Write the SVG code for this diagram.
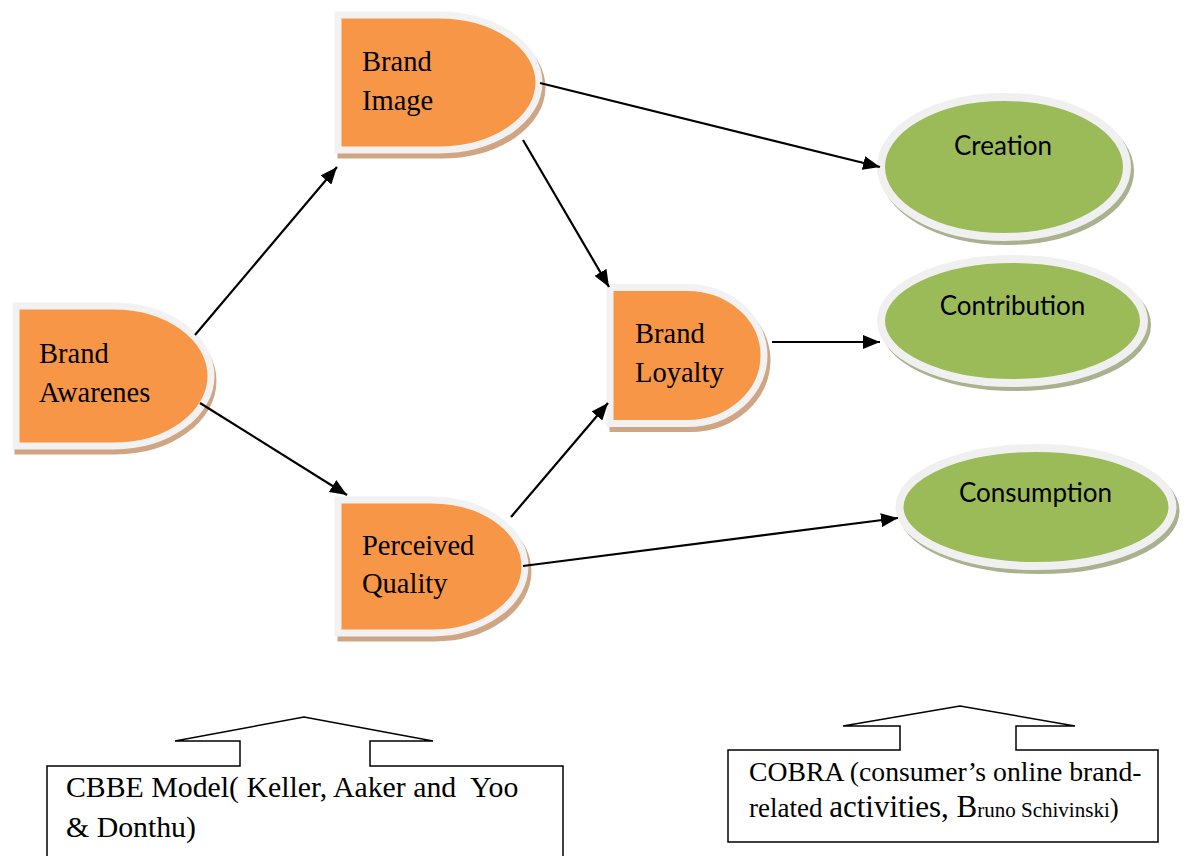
<svg xmlns="http://www.w3.org/2000/svg" width="1194" height="856" viewBox="0 0 1194 856">
<style>
.shd{fill:#CFA584;stroke:#CFA584;stroke-width:7}
.ora{fill:#F79646;stroke:#F2F2F2;stroke-width:7}
.gshd{fill:#A9B18F;stroke:#A9B18F;stroke-width:8}
.grn{fill:#9BBB59;stroke:#F0F0F0;stroke-width:8}
.ot{font-family:"Liberation Serif","Times New Roman",serif;font-size:28.5px;fill:#000}
.gt{font-family:Lato,"Open Sans",sans-serif;font-size:26px;fill:#000;text-anchor:middle}
.conn line{stroke:#000;stroke-width:2.2}
.call{fill:none;stroke:#000;stroke-width:1.5}
.bt{font-family:"Liberation Serif","Times New Roman",serif;fill:#000;white-space:pre}
</style>
<defs>
<marker id="ah" markerUnits="userSpaceOnUse" markerWidth="18" markerHeight="14" refX="17" refY="7" orient="auto">
<path d="M0,0 L17,7 L0,14 Z" fill="#000"/>
</marker>
</defs>

<g id="brand-awareness">
<path class="shd" transform="translate(2,5)" d="M16,306 L113.5,306 A97.5,70 0 0 1 113.5,446 L16,446 Z"/>
<path class="ora" d="M16,306 L113.5,306 A97.5,70 0 0 1 113.5,446 L16,446 Z"/>
<text class="ot" font-family="Liberation Serif, serif" x="39" y="363">Brand</text>
<text class="ot" font-family="Liberation Serif, serif" x="39" y="402">Awarenes</text>
</g>

<g id="brand-image">
<path class="shd" transform="translate(3,5)" d="M338,15 L438.5,15 A100.5,67.5 0 0 1 438.5,150 L338,150 Z"/>
<path class="ora" d="M338,15 L438.5,15 A100.5,67.5 0 0 1 438.5,150 L338,150 Z"/>
<text class="ot" font-family="Liberation Serif, serif" x="362" y="71">Brand</text>
<text class="ot" font-family="Liberation Serif, serif" x="362" y="110">Image</text>
</g>

<g id="perceived-quality">
<path class="shd" transform="translate(3,5)" d="M338,500 L431.5,500 A93.5,66.5 0 0 1 431.5,633 L338,633 Z"/>
<path class="ora" d="M338,500 L431.5,500 A93.5,66.5 0 0 1 431.5,633 L338,633 Z"/>
<text class="ot" font-family="Liberation Serif, serif" x="362" y="555">Perceived</text>
<text class="ot" font-family="Liberation Serif, serif" x="362" y="593">Quality</text>
</g>

<g id="brand-loyalty">
<path class="shd" transform="translate(3,5)" d="M610,287.5 L687,287.5 A77,68 0 0 1 687,423.5 L610,423.5 Z"/>
<path class="ora" d="M610,287.5 L687,287.5 A77,68 0 0 1 687,423.5 L610,423.5 Z"/>
<text class="ot" font-family="Liberation Serif, serif" x="635" y="343">Brand</text>
<text class="ot" font-family="Liberation Serif, serif" x="635" y="382">Loyalty</text>
</g>

<g id="creation">
<ellipse class="gshd" cx="1007" cy="171" rx="123" ry="70"/>
<ellipse class="grn" cx="1004" cy="167" rx="123" ry="70"/>
<text class="gt" x="1003" y="155">Creation</text>
</g>

<g id="contribution">
<ellipse class="gshd" cx="1015.5" cy="325" rx="131.5" ry="62"/>
<ellipse class="grn" cx="1012.5" cy="321" rx="131.5" ry="62"/>
<text class="gt" x="1012.5" y="315">Contribution</text>
</g>

<g id="consumption">
<ellipse class="gshd" cx="1039" cy="511" rx="136.5" ry="59"/>
<ellipse class="grn" cx="1036" cy="507" rx="136.5" ry="59"/>
<text class="gt" x="1035.5" y="502">Consumption</text>
</g>

<g class="conn" id="connectors">
<line x1="195" y1="335" x2="337" y2="167" marker-end="url(#ah)"/>
<line x1="200" y1="403" x2="347" y2="495" marker-end="url(#ah)"/>
<line x1="540" y1="83" x2="880" y2="167" marker-end="url(#ah)"/>
<line x1="523" y1="140" x2="609" y2="287" marker-end="url(#ah)"/>
<line x1="511" y1="517" x2="608" y2="403" marker-end="url(#ah)"/>
<line x1="772" y1="342" x2="880" y2="342" marker-end="url(#ah)"/>
<line x1="523" y1="566" x2="898" y2="518" marker-end="url(#ah)"/>
</g>

<g id="cbbe-callout">
<path class="call" d="M47,870 L47,766 L240,766 L240,741 L175,741 L304,717 L433,741 L370,741 L370,766 L563,766 L563,870"/>
<text class="bt" x="66" y="797" font-size="29.8">CBBE Model( Keller, Aaker and  Yoo</text>
<text class="bt" x="66" y="837" font-size="29.8">&amp; Donthu)</text>
</g>

<g id="cobra-callout">
<path class="call" d="M728,842 L728,750 L900,750 L900,726 L843,726 L960,706 L1075,726 L1016,726 L1016,750 L1158,750 L1158,842 Z"/>
<text class="bt" x="749" y="781" font-size="27.7">COBRA (consumer’s online brand-</text>
<text class="bt" x="749" y="817" font-size="27">related <tspan font-size="31">activities, B</tspan><tspan font-size="21">runo Schivinski</tspan>)</text>
</g>
</svg>
